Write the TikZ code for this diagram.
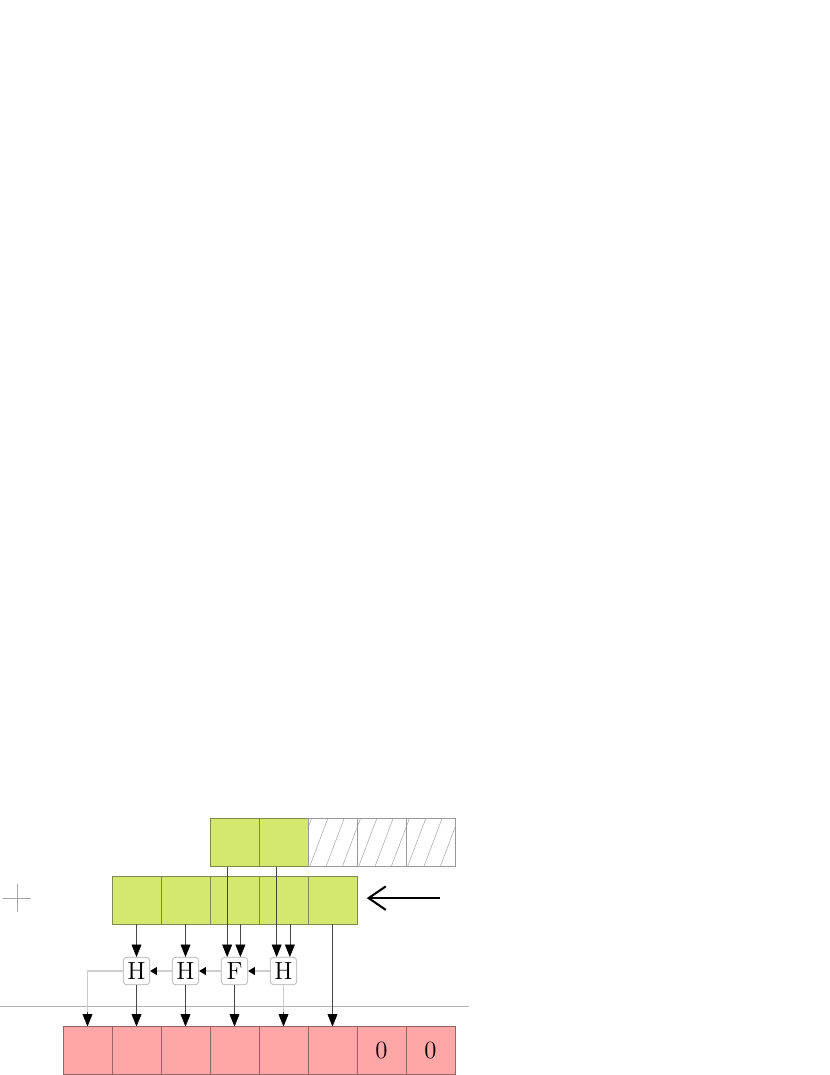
\documentclass[tikz,border=0pt]{standalone}
\usepackage{xcolor}
\usepackage{tikz}
\usetikzlibrary{arrows.meta}
\usetikzlibrary{positioning}
\usetikzlibrary{calc}
\definecolor{cellgreen}{RGB}{213,232,110}
\definecolor{cellgreenline}{RGB}{128,138,80}
\definecolor{cellred}{RGB}{255,166,166}
\definecolor{cellredline}{RGB}{150,100,100}
\definecolor{gatefrm}{RGB}{175,175,175}
\definecolor{carrygray}{RGB}{205,205,205}
\definecolor{feedgray}{RGB}{70,70,70}

\begin{document}
\begin{tikzpicture}[greencell/.style={draw=cellgreenline,fill=cellgreen,minimum width=1cm,minimum height=0.98cm,inner sep=0pt,outer sep=0pt,line width=0.4pt},redcell/.style={draw=cellredline,fill=cellred,minimum width=1cm,minimum height=0.98cm,inner sep=0pt,outer sep=0pt,line width=0.4pt,font=\Large},emptycell/.style={draw=gray!80,minimum width=1cm,minimum height=0.98cm,inner sep=0pt,outer sep=0pt,line width=0.4pt},gate/.style={draw=gatefrm,fill=white,rounded corners=2pt,minimum width=0.54cm,minimum height=0.56cm,inner sep=0pt,font=\Large},feed/.style={draw=feedgray,-{Triangle[length=2.5mm,width=2mm,black]},line width=0.3pt},carry/.style={draw=carrygray,line width=0.8pt},chain/.style={carry,-{Triangle[length=1.4mm,width=1.6mm,black]}}]
            \useasboundingbox (-1.286,-0.01) rectangle (15.653,21.93);
            \draw[gray!60,line width=0.3pt] (-1.286,1.384) -- (8.29,1.384);
            \draw[gray!70,line width=0.3pt] (-1.23,3.6) -- (-0.65,3.6) (-0.94,3.31) -- (-0.94,3.89);
            \foreach \i in {1,...,8}
              \node[redcell] (b\i) at (\i-0.5,0.49) {};
            \node at (b7) {\Large $0$};
            \node at (b8) {\Large $0$};
            \foreach \i in {1,...,5}
              \node[greencell] (m\i) at (\i+0.5,3.555) {};
            \foreach \i in {1,2}
              \node[greencell] (t\i) at (\i+2.5,4.73) {};
            \foreach \i in {3,4,5}
              \node[emptycell] (t\i) at (\i+2.5,4.73) {};
            \begin{scope}
              \clip (5,4.24) rectangle (8,5.22);
              \foreach \x in {4.7,5.033,...,8.1}
                \draw[gray!70,line width=0.3pt] (\x,4.24) -- (\x+0.37,5.22);
            \end{scope}
            \foreach \i in {3,4,5}
              \draw[gray!80,line width=0.4pt] (t\i.south west) rectangle (t\i.north east);
            \begin{scope}[every node/.style={gate}]
              \node (g1) at (1.5,2.112) {H};
              \node (g2) at (2.5,2.112) {H};
              \node (g3) at (3.5,2.112) {F};
              \node (g4) at (4.5,2.112) {H};
            \end{scope}
            \coordinate (atail) at (7.69,3.6);
            \coordinate (ahead) at (6.2,3.6);
            \draw[-{Straight Barb[length=3.5mm,width=4.8mm]},line width=1.2pt] (atail) -- (ahead);
            \draw[feed] (m1.south) -- (g1.north);
            \draw[feed] (m2.south) -- (g2.north);
            \draw[feed] ([xshift=-0.15cm]t1.south) -- ([xshift=-0.15cm]g3.north);
            \draw[feed] ([xshift=0.12cm]m3.south) -- ([xshift=0.12cm]g3.north);
            \draw[feed] ([xshift=-0.14cm]t2.south) -- ([xshift=-0.14cm]g4.north);
            \draw[feed] ([xshift=0.13cm]m4.south) -- ([xshift=0.13cm]g4.north);
            \draw[feed] (m5.south) -- (b6.north);
            \draw[chain] (g4.west) -- (g3.east);
            \draw[chain] (g3.west) -- (g2.east);
            \draw[chain] (g2.west) -- (g1.east);
            \draw[carry] (g1.west) -| ([yshift=0.25cm]b1.north);
            \draw[feed] ([yshift=0.3cm]b1.north) -- (b1.north);
            \draw[feed] (g1.south) -- (b2.north);
            \draw[feed] (g2.south) -- (b3.north);
            \draw[feed] (g3.south) -- (b4.north);
            \draw[carry] (g4.south) -- ([yshift=0.25cm]b5.north);
            \draw[feed] ([yshift=0.3cm]b5.north) -- (b5.north);
          \end{tikzpicture}
\end{document}
